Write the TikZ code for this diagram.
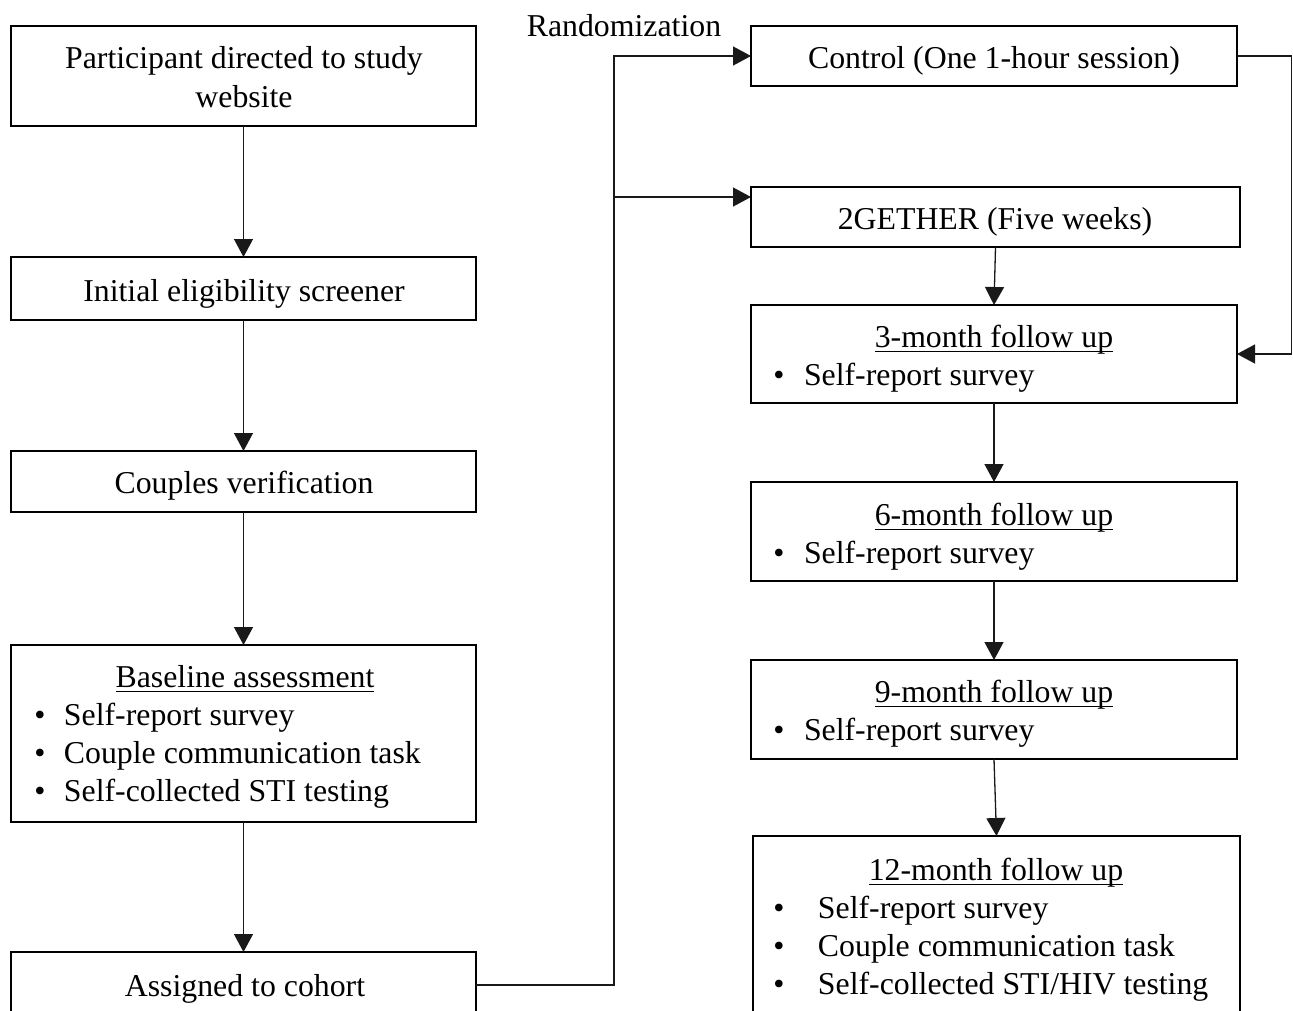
\documentclass[tikz,border=0pt]{standalone}
\usepackage{fontspec}
\setmainfont{Liberation Serif}
\usetikzlibrary{arrows.meta,calc}
\newcommand\ulx[1]{\setbox0\hbox{#1}\rlap{\rule[-5pt]{\wd0}{1.4pt}}\box0}
\newcommand\bul[1]{\makebox[#1][l]{\textbullet}}
\begin{document}
\begin{tikzpicture}[x=1pt,y=-1pt,
  box/.style={draw=black,line width=2.6pt,inner sep=0pt,outer sep=0pt},
  txt/.style={inner sep=0pt,outer sep=0pt,anchor=base,font=\fontsize{31.8pt}{38pt}\selectfont},
  ltxt/.style={txt,anchor=base west},
  conn/.style={draw=black!90,line width=1.3pt},
  arr/.style={conn,-{Triangle[length=18pt,width=19pt]}}]
\useasboundingbox (0,0) rectangle (1293,1010);
\clip (0,0) rectangle (1293,1010);
% left column boxes
\node[box,minimum width=465pt,minimum height=100pt] (p) at (243.5,76) {};
\node[box,minimum width=465pt,minimum height=63pt] (ie) at (243.5,288.5) {};
\node[box,minimum width=465pt,minimum height=61pt] (cv) at (243.5,481.5) {};
\node[box,minimum width=465pt,minimum height=177pt] (ba) at (243.5,733.5) {};
\node[box,minimum width=465pt,minimum height=66pt] (ac) at (243.5,985) {};
% right column boxes
\node[box,minimum width=486pt,minimum height=60pt] (ctl) at (994,56) {};
\node[box,minimum width=489pt,minimum height=60pt] (tg) at (995.5,217) {};
\node[box,minimum width=486pt,minimum height=98pt] (m3) at (994,354) {};
\node[box,minimum width=486pt,minimum height=99pt] (m6) at (994,531.5) {};
\node[box,minimum width=486pt,minimum height=99pt] (m9) at (994,709.5) {};
\node[box,minimum width=487pt,minimum height=224pt] (m12) at (996.5,948) {};
% texts
\node[txt] (tp1) at (244,68) {Participant directed to study};
\node[txt] (tp2) at (244,107) {website};
\node[txt] (tie) at (244,301) {Initial eligibility screener};
\node[txt] (tcv) at (244,493) {Couples verification};
\node[txt] (tba) at (245,687) {\ulx{Baseline assessment}};
\node[ltxt] (tba1) at (34.4,725) {\bul{29.6pt}Self-report survey};
\node[ltxt] (tba2) at (34.4,763) {\bul{29.6pt}Couple communication task};
\node[ltxt] (tba3) at (34.4,801) {\bul{29.6pt}Self-collected STI testing};
\node[txt] (tac) at (245,996) {Assigned to cohort};
\node[txt] (trand) at (624,36) {Randomization};
\node[txt] (tctl) at (994,68) {Control (One 1-hour session)};
\node[txt] (ttg) at (995,229) {2GETHER (Five weeks)};
\node[txt] (tm3) at (994,347) {\ulx{3-month follow up}};
\node[ltxt] (tm3a) at (773.4,385) {\bul{30.6pt}Self-report survey};
\node[txt] (tm6) at (994,525) {\ulx{6-month follow up}};
\node[ltxt] (tm6a) at (773.4,563) {\bul{30.6pt}Self-report survey};
\node[txt] (tm9) at (994,702) {\ulx{9-month follow up}};
\node[ltxt] (tm9a) at (773.4,740) {\bul{30.6pt}Self-report survey};
\node[txt] (tm12) at (996,880) {\ulx{12-month follow up}};
\node[ltxt] (tm12a) at (773.4,918) {\bul{44.6pt}Self-report survey};
\node[ltxt] (tm12b) at (773.4,956) {\bul{44.6pt}Couple communication task};
\node[ltxt] (tm12c) at (773.4,994) {\bul{44.6pt}Self-collected STI/HIV testing};
% connectors left
\draw[arr] (p.south) -- (ie.north);
\draw[arr] (ie.south) -- (cv.north);
\draw[arr] (cv.south) -- (ba.north);
\draw[arr] (ba.south) -- (ac.north);
% randomization
\coordinate (split) at (614,197);
\draw[arr] (ac.east) -| (split) |- (ctl.west);
\draw[arr] (split) -- (tg.west |- split);
% right column
\draw[arr] (tg.south) -- (m3.north);
\draw[arr] (m3.south) -- (m6.north);
\draw[arr] (m6.south) -- (m9.north);
\draw[arr] (m9.south) -- (m12.north);
\coordinate (rc) at (1291.5,354);
\draw[conn] (ctl.east) -| (rc);
\draw[arr] (rc) -- (m3.east);
\end{tikzpicture}
\end{document}
